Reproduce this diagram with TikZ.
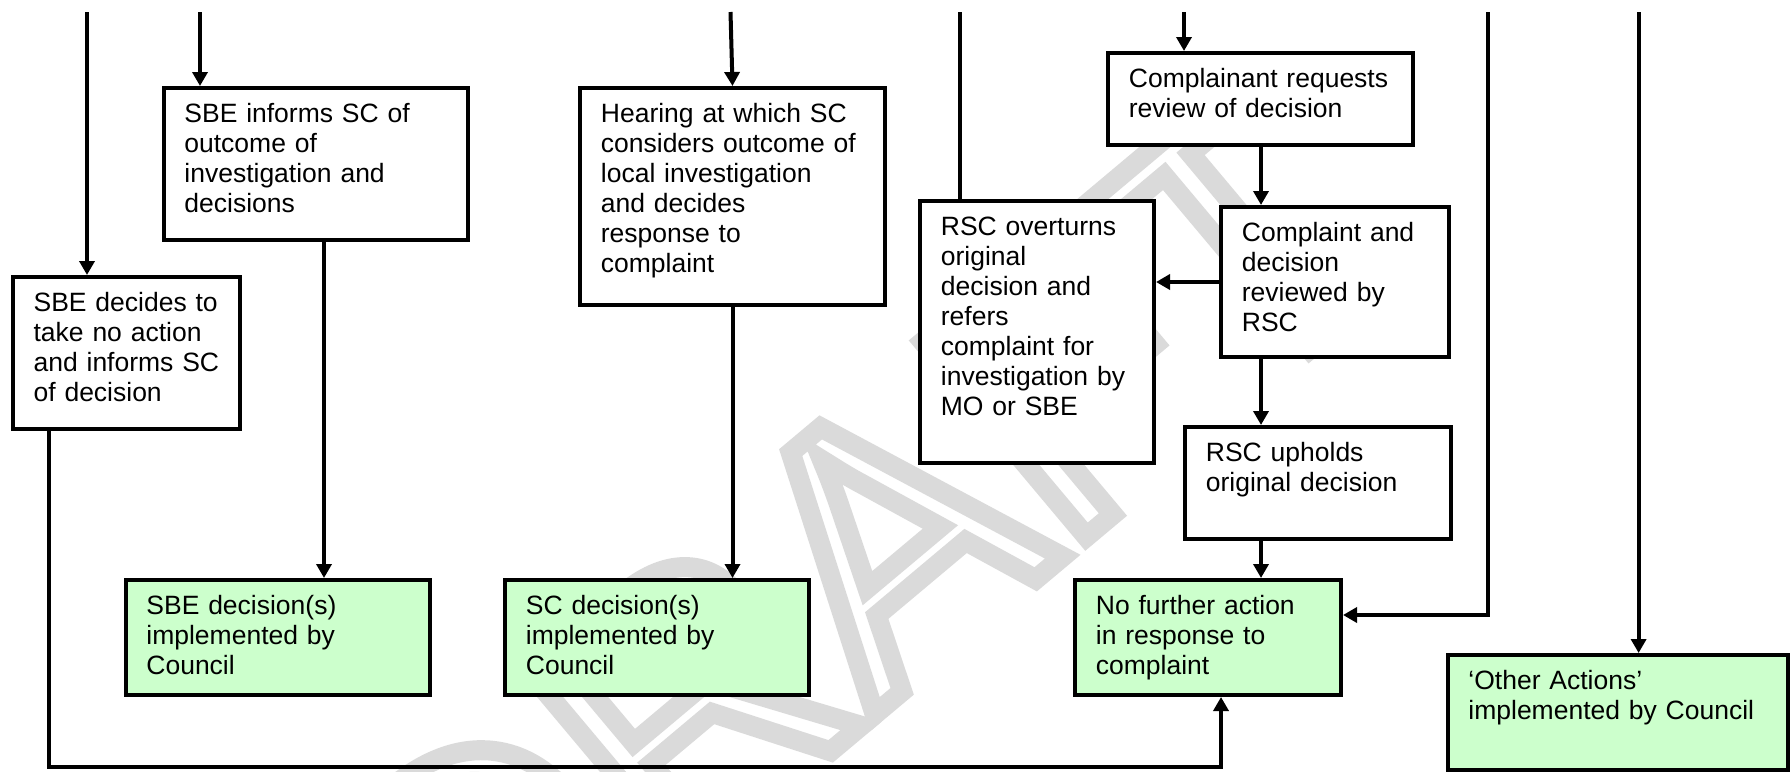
\documentclass[tikz,border=0pt]{standalone}
\usepackage{fontspec}
\setmainfont{Liberation Sans}
\usepackage{xcolor}
\usetikzlibrary{arrows.meta}
\definecolor{donegreen}{HTML}{CCFFCC}
\definecolor{draftgrey}{HTML}{DADADA}

\begin{document}
\begin{tikzpicture}[x=0.5pt,y=0.5pt]
	\tikzstyle{every node}+=[inner sep=0pt]
	\tikzstyle{stage}=[draw=black, fill=white, line width=2pt, anchor=north west]
	\tikzstyle{done}=[stage, fill=donegreen]
	\tikzstyle{words}=[anchor=base west, align=left, text width=140pt, font=\fontsize{13.25}{15}\selectfont]
	\tikzstyle{flow}=[black, line width=2pt, -{Triangle[length=7pt,width=7.5pt]}]
	\tikzstyle{plain}=[black, line width=2pt]
	\useasboundingbox (0,0) rectangle (1791,-771);
	\node [rotate=40, anchor=base west, text=draftgrey, font=\fontsize{185}{185}\selectfont] (draft) at (464.6,-1058.5) {\special{pdf:literal direct 1 Tr 10 w}DRAFT\special{pdf:literal direct 0 Tr}};
	\node [stage, minimum width=113.75pt, minimum height=76pt] (sbeno) at (10.7,-275) {};
	\node [words] (sbeno-t) at (33.2,-311.5) {SBE decides to\\take no action\\and informs SC\\of decision};
	\node [stage, minimum width=152.25pt, minimum height=76pt] (sbeinf) at (161.5,-86) {};
	\node [words] (sbeinf-t) at (184,-122.5) {SBE informs SC of\\outcome of\\investigation and\\decisions};
	\node [stage, minimum width=152.5pt, minimum height=108.5pt] (hearing) at (578,-86) {};
	\node [words] (hearing-t) at (600.5,-122.5) {Hearing at which SC\\considers outcome of\\local investigation\\and decides\\response to\\complaint};
	\node [stage, minimum width=117pt, minimum height=131pt] (overturn) at (918,-199) {};
	\node [words] (overturn-t) at (940.5,-235.5) {RSC overturns\\original\\decision and\\refers\\complaint for\\investigation by\\MO or SBE};
	\node [stage, minimum width=152.5pt, minimum height=46pt] (request) at (1106,-51) {};
	\node [words] (request-t) at (1128.5,-87.5) {Complainant requests\\review of decision};
	\node [stage, minimum width=114pt, minimum height=75pt] (reviewed) at (1219,-205) {};
	\node [words] (reviewed-t) at (1241.5,-241.5) {Complaint and\\decision\\reviewed by\\RSC};
	\node [stage, minimum width=133pt, minimum height=56pt] (uphold) at (1183,-425) {};
	\node [words] (uphold-t) at (1205.5,-461.5) {RSC upholds\\original decision};
	\node [done, minimum width=152.25pt, minimum height=57.5pt] (sbeimp) at (123.5,-578) {};
	\node [words] (sbeimp-t) at (146,-614.5) {SBE decision(s)\\implemented by\\Council};
	\node [done, minimum width=152pt, minimum height=57.5pt] (scimp) at (503,-578) {};
	\node [words] (scimp-t) at (525.5,-614.5) {SC decision(s)\\implemented by\\Council};
	\node [done, minimum width=133pt, minimum height=57.5pt] (nofurther) at (1073,-578) {};
	\node [words] (nofurther-t) at (1095.5,-614.5) {No further action\\in response to\\complaint};
	\node [done, minimum width=170.25pt, minimum height=57.5pt] (other) at (1445.5,-653) {};
	\node [words, text width=165pt] (other-t) at (1468,-689.5) {‘Other Actions’\\implemented by Council};
	\coordinate (in1) at (87,-12);
	\coordinate (in2) at (200,-12);
	\coordinate (in3) at (730.5,-12);
	\coordinate (in4) at (959.6,-12);
	\coordinate (in5) at (1184,-12);
	\coordinate (in6) at (1488,-12);
	\coordinate (in7) at (1638.6,-12);
	\coordinate (lane2) at (324,0);
	\coordinate (lane5) at (1261,0);
	\coordinate (bend6) at (1488,-615);
	\coordinate (loopl) at (49,-767);
	\coordinate (loopr) at (1221,-767);
	\draw [flow] (in1) -- (in1 |- sbeno.north);
	\draw [flow] (in2) -- (in2 |- sbeinf.north);
	\draw [flow] (sbeinf.south -| lane2) -- (sbeimp.north -| lane2);
	\draw [flow] (in3) -- (hearing.north);
	\draw [flow] (hearing.south) -- (hearing.south |- scimp.north);
	\draw [plain] (in4) -- (in4 |- overturn.north);
	\draw [flow] (in5) -- (in5 |- request.north);
	\draw [flow] (request.south -| lane5) -- (reviewed.north -| lane5);
	\draw [flow] (reviewed.west) -- (reviewed.west -| overturn.east);
	\draw [flow] (reviewed.south -| lane5) -- (uphold.north -| lane5);
	\draw [flow] (uphold.south -| lane5) -- (nofurther.north -| lane5);
	\draw [flow] (in6) -- (bend6) -- (bend6 -| nofurther.east);
	\draw [flow] (in7) -- (in7 |- other.north);
	\draw [flow] (sbeno.south -| loopl) -- (loopl) -- (loopr) -- (loopr |- nofurther.south);
\end{tikzpicture}
\end{document}
